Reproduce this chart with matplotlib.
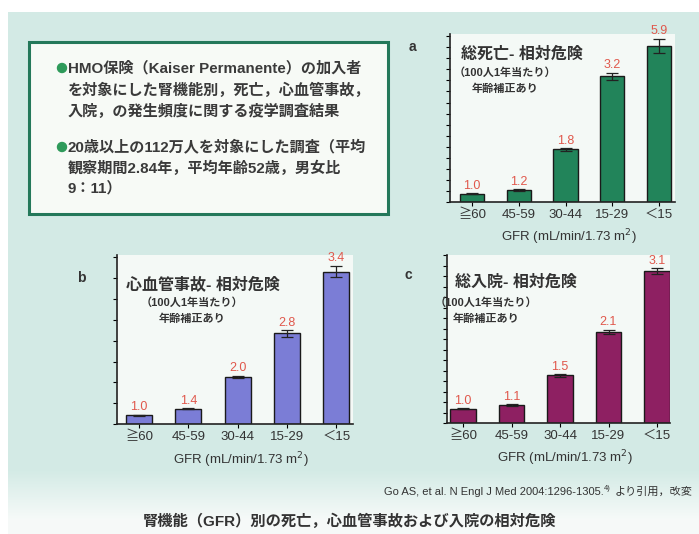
import matplotlib
matplotlib.use('Agg')
import matplotlib.pyplot as plt
import numpy as np
from matplotlib.patches import Rectangle, Circle

plt.rcParams['font.family'] = ['Liberation Sans', 'Noto Sans CJK JP', 'DejaVu Sans']

W, H = 699, 534

# GFR categories (mL/min/1.73 m2)
gfr = ['≧60', '45-59', '30-44', '15-29', '＜15']

# a: all-cause death (rate per 100 person-years), hazard ratio labels
death_rate = [0.76, 1.08, 4.76, 11.36, 14.14]
death_err = [0.05, 0.08, 0.12, 0.35, 0.65]
death_hr = ['1.0', '1.2', '1.8', '3.2', '5.9']

# b: cardiovascular events
cv_rate = [2.11, 3.65, 11.29, 21.80, 36.60]
cv_err = [0.1, 0.15, 0.3, 0.8, 1.4]
cv_hr = ['1.0', '1.4', '2.0', '2.8', '3.4']

# c: hospitalisation
hosp_rate = [13.54, 17.22, 45.26, 86.75, 144.61]
hosp_err = [0.4, 0.6, 1.2, 2.0, 3.0]
hosp_hr = ['1.0', '1.1', '1.5', '2.1', '3.1']

fig = plt.figure(figsize=(W / 100, H / 100), dpi=100)
fig.patch.set_facecolor('white')

# background
bg = fig.add_axes([0, 0, 1, 1], zorder=-10)
bg.set_xlim(0, W)
bg.set_ylim(H, 0)
bg.axis('off')
mint = np.array([0.83, 0.92, 0.90])
light = np.array([0.965, 0.98, 0.975])
rows = np.linspace(0, H, 200)
t = np.clip((rows - 470) / 50, 0, 1)[:, None]
grad = (mint * (1 - t) + light * t)[:, None, :]
bg.imshow(grad, extent=[8, W, H, 12], aspect='auto', zorder=0)

# info box
bg.add_patch(Rectangle((29, 42), 359, 172, facecolor='#f7faf6', edgecolor='#24785a', lw=2.2, zorder=2))


def ftext(x, y, s, **kw):
    return fig.text(x / W, 1 - y / H, s, **kw)


box_lines = [(68, 'HMO保険（Kaiser Permanente）の加入者', True),
             (90, 'を対象にした腎機能別，死亡，心血管事故，', False),
             (111, '入院，の発生頻度に関する疫学調査結果', False),
             (147, '20歳以上の112万人を対象にした調査（平均', True),
             (168, '観察期間2.84年，平均年齢52歳，男女比', False),
             (188, '9：11）', False)]
for y, s, bullet in box_lines:
    if bullet:
        bg.add_patch(Circle((62, y), 4.5, color='#2e9a5a', zorder=3))
    ftext(68, y, s, fontsize=10.9, fontweight='bold', color='#3a3a3a', va='center', ha='left')


def panel(box, centers_px, spacing, data, err, labels, color, ylim, ystep, width,
          letter, letter_xy, title_xy, title, sub_xy, xlabel_y, label_off):
    x0, y0, x1, y1 = box
    ax = fig.add_axes([x0 / W, 1 - y1 / H, (x1 - x0) / W, (y1 - y0) / H])
    ax.set_facecolor('#f4f9f6')
    pos = np.arange(len(gfr))
    ax.bar(pos, data, width=width, color=color, edgecolor='#1a1a1a', lw=1.0,
           yerr=err, capsize=4, error_kw=dict(ecolor='#222222', elinewidth=0.9, capthick=0.9))
    ax.set_xlim((x0 - centers_px) / spacing, (x1 - centers_px) / spacing)
    ax.set_ylim(*ylim)
    ax.set_yticks(np.arange(0, ylim[1] + 0.01, ystep))
    ax.set_yticklabels([])
    ax.set_xticks(pos)
    ax.set_xticklabels(gfr, fontsize=9.5, color='#333333')
    ax.tick_params(axis='y', length=3, width=0.8, direction='out')
    ax.tick_params(axis='x', length=3, width=0.8, direction='out', pad=2)
    for sp in ['top', 'right']:
        ax.spines[sp].set_visible(False)
    for sp in ['left', 'bottom']:
        ax.spines[sp].set_linewidth(1.2)
        ax.spines[sp].set_color('#222222')
    for p, v, e, lab in zip(pos, data, err, labels):
        ax.annotate(lab, (p, v + e), xytext=(0, label_off), textcoords='offset points',
                    ha='center', va='bottom', fontsize=9, color='#e0584c')
    ftext(letter_xy[0], letter_xy[1], letter, fontsize=10, fontweight='bold', color='#333333', ha='center', va='center')
    ftext(title_xy[0], title_xy[1], title, fontsize=11.5, fontweight='bold', color='#333333', ha='left', va='center')
    ftext(sub_xy[0], sub_xy[1], '（100人1年当たり）', fontsize=8, fontweight='bold', color='#333333', ha='center', va='center')
    ftext(sub_xy[0], sub_xy[1] + 16, '年齢補正あり', fontsize=8, fontweight='bold', color='#333333', ha='center', va='center')
    ftext((x0 + x1) / 2 + 6, xlabel_y, 'GFR (mL/min/1.73 m$^2$)', fontsize=9.5, color='#333333', ha='center', va='center')
    return ax


panel((450, 34, 675, 202), 472, 46.75, death_rate, death_err, death_hr, '#22845a',
      (0, 15.2), 1, 0.52, 'a', (412, 47), (461, 54), '総死亡- 相対危険', (505, 73), 237, 1)
panel((117, 255, 353, 424), 139, 49.3, cv_rate, cv_err, cv_hr, '#7b7dd6',
      (0, 40.6), 5, 0.53, 'b', (81, 278), (126, 284), '心血管事故- 相対危険', (192, 303), 460, 1)
panel((447, 255, 670, 423), 463, 48.5, hosp_rate, hosp_err, hosp_hr, '#8e2062',
      (0, 160), 10, 0.52, 'c', (408, 275), (455, 282), '総入院- 相対危険', (486, 303), 458, 1)

# citation, composed right to left
fig.canvas.draw()
r = fig.canvas.get_renderer()
jp = ftext(693, 492, 'より引用，改変', fontsize=8, color='#333333', ha='right', va='center')
jx = jp.get_window_extent(r).x0
sup = fig.text((jx - 4) / W, 1 - 488 / H, '4)', fontsize=5.5, color='#333333', ha='right', va='center')
sx = sup.get_window_extent(r).x0
fig.text((sx - 1) / W, 1 - 492 / H, 'Go AS, et al. N Engl J Med 2004:1296-1305.',
         fontsize=8, color='#333333', ha='right', va='center')

ftext(349, 521, '腎機能（GFR）別の死亡，心血管事故および入院の相対危険',
      fontsize=11, fontweight='bold', color='#333333', ha='center', va='center')

fig.savefig('out.png', dpi=100)
